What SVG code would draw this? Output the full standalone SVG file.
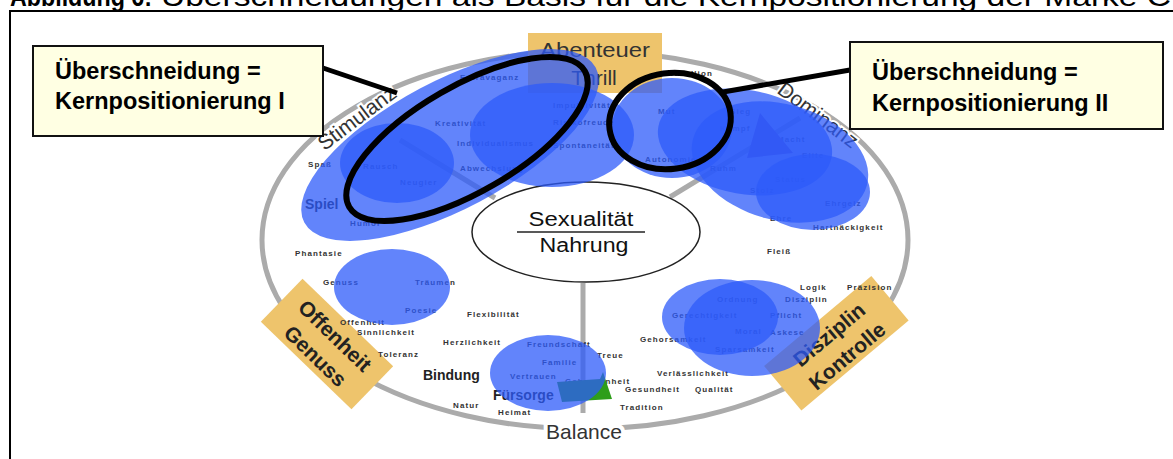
<svg xmlns="http://www.w3.org/2000/svg" width="1173" height="459" viewBox="0 0 1173 459">
<style>
.w{font-family:"Liberation Sans",Arial,sans-serif;font-weight:bold;font-size:8px;letter-spacing:1.1px;fill:#333}
.big{font-family:"Liberation Sans",Arial,sans-serif;font-weight:bold;font-size:14px;fill:#222}
.lbl{font-family:"Liberation Sans",Arial,sans-serif;font-size:21px;fill:#333}
.boxt{font-family:"Liberation Sans",Arial,sans-serif;font-weight:bold;font-size:21px;fill:#222}
.call{font-family:"Liberation Sans",Arial,sans-serif;font-weight:bold;font-size:23.5px;fill:#000}
.ttl{font-family:"Liberation Sans",Arial,sans-serif;font-size:28px;fill:#000}
.blue{fill:#2D5BFA;fill-opacity:0.75}
.gold{fill:#EEC46C}
.spoke{stroke:#ababab;stroke-width:5;fill:none}
</style>
<rect width="1173" height="459" fill="#fff"/>
<g id="title">
<text class="ttl" x="10" y="6" font-weight="bold" font-size="24" textLength="142" lengthAdjust="spacingAndGlyphs">Abbildung 6:</text>
<text class="ttl" x="161" y="6" textLength="1010" lengthAdjust="spacingAndGlyphs">Überschneidungen als Basis für die Kernpositionierung der Marke C</text>
</g>
<path d="M10,460 V11 H1175" fill="none" stroke="#000" stroke-width="2"/>

<g id="wheel">
<ellipse cx="585" cy="240" rx="323" ry="189" fill="none" stroke="#ababab" stroke-width="5"/>
<line class="spoke" x1="400" y1="140" x2="495" y2="198"/>
<line class="spoke" x1="670" y1="197" x2="800" y2="118"/>
<line class="spoke" x1="583" y1="283" x2="583" y2="413"/>
</g>

<g id="center">
<ellipse cx="586" cy="232" rx="114" ry="50" fill="#fff" stroke="#222" stroke-width="1.5"/>
<text x="581" y="226" text-anchor="middle" font-family="'Liberation Sans',Arial,sans-serif" font-size="20" fill="#111" textLength="105" lengthAdjust="spacingAndGlyphs">Sexualität</text>
<line x1="517" y1="232" x2="645" y2="232" stroke="#222" stroke-width="1.5"/>
<text x="584" y="252" text-anchor="middle" font-family="'Liberation Sans',Arial,sans-serif" font-size="20" fill="#111" textLength="89" lengthAdjust="spacingAndGlyphs">Nahrung</text>
</g>

<g id="thrill">
<rect class="gold" x="528" y="33" width="134" height="60"/>
<text class="lbl" x="595" y="57" text-anchor="middle" textLength="110" lengthAdjust="spacingAndGlyphs">Abenteuer</text>
<text class="lbl" x="594" y="85" text-anchor="middle" font-size="23">Thrill</text>
</g>

<g id="stimulanz">
<text class="lbl" transform="translate(357,118) rotate(-37)" x="0" y="7" text-anchor="middle" font-size="23" stroke="#fff" stroke-width="4" paint-order="stroke">Stimulanz</text>
</g>
<g id="dominanz">
<text class="lbl" transform="translate(818,115) rotate(37)" x="0" y="7" text-anchor="middle" font-size="23" stroke="#fff" stroke-width="4" paint-order="stroke">Dominanz</text>
</g>
<g id="balance">
<text class="lbl" x="584" y="439" text-anchor="middle" font-size="23" stroke="#fff" stroke-width="8" paint-order="stroke">Balance</text>
</g>

<g id="offenheit" transform="translate(327,344) rotate(44)">
<rect class="gold" x="-63" y="-30" width="126" height="60"/>
<text class="boxt" x="0" y="-4" text-anchor="middle">Offenheit</text>
<text class="boxt" x="0" y="24" text-anchor="middle">Genuss</text>
</g>

<g id="disziplin" transform="translate(837,344) rotate(-40)">
<rect class="gold" x="-70" y="-30" width="140" height="58"/>
<text class="boxt" x="0" y="-5" text-anchor="middle">Disziplin</text>
<text class="boxt" x="0" y="23" text-anchor="middle">Kontrolle</text>
</g>

<g id="words">
<text class="w" x="460" y="80">Extravaganz</text>
<text class="w" x="435" y="126">Kreativität</text>
<text class="w" x="457" y="146">Individualismus</text>
<text class="w" x="308" y="167">Spaß</text>
<text class="w" x="363" y="169">Rausch</text>
<text class="w" x="460" y="171">Abwechslung</text>
<text class="w" x="400" y="185">Neugier</text>
<text class="big" x="305" y="209">Spiel</text>
<text class="w" x="350" y="226">Humor</text>
<text class="w" x="553" y="108">Impulsivität</text>
<text class="w" x="553" y="125">Risikofreude</text>
<text class="w" x="553" y="148">Spontaneität</text>
<text class="w" x="667" y="76">Rebellion</text>
<text class="w" x="658" y="114">Mut</text>
<text class="w" x="730" y="114">Sieg</text>
<text class="w" x="720" y="131">Kampf</text>
<text class="w" x="777" y="142">Macht</text>
<text class="w" x="802" y="158">Elite</text>
<text class="w" x="645" y="162">Autonomie</text>
<text class="w" x="710" y="171">Ruhm</text>
<text class="w" x="775" y="182">Status</text>
<text class="w" x="750" y="193">Stolz</text>
<text class="w" x="825" y="206">Ehrgeiz</text>
<text class="w" x="770" y="221">Ehre</text>
<text class="w" x="813" y="230">Hartnäckigkeit</text>
<text class="w" x="295" y="256">Phantasie</text>
<text class="w" x="323" y="285">Genuss</text>
<text class="w" x="415" y="285">Träumen</text>
<text class="w" x="405" y="313">Poesie</text>
<text class="w" x="467" y="317">Flexibilität</text>
<text class="w" x="340" y="325">Offenheit</text>
<text class="w" x="357" y="335">Sinnlichkeit</text>
<text class="w" x="443" y="345">Herzlichkeit</text>
<text class="w" x="378" y="357">Toleranz</text>
<text class="big" x="423" y="380">Bindung</text>
<text class="big" x="493" y="400">Fürsorge</text>
<text class="w" x="453" y="408">Natur</text>
<text class="w" x="498" y="415">Heimat</text>
<text class="w" x="527" y="347">Freundschaft</text>
<text class="w" x="542" y="365">Familie</text>
<text class="w" x="510" y="379">Vertrauen</text>
<text class="w" x="565" y="384">Geborgenheit</text>
<text class="w" x="597" y="358">Treue</text>
<text class="w" x="625" y="392">Gesundheit</text>
<text class="w" x="620" y="410">Tradition</text>
<text class="w" x="695" y="392">Qualität</text>
<text class="w" x="657" y="376">Verlässlichkeit</text>
<text class="w" x="640" y="342">Gehorsamkeit</text>
<text class="w" x="767" y="254">Fleiß</text>
<text class="w" x="800" y="290">Logik</text>
<text class="w" x="847" y="290">Präzision</text>
<text class="w" x="717" y="302">Ordnung</text>
<text class="w" x="785" y="302">Disziplin</text>
<text class="w" x="672" y="318">Gerechtigkeit</text>
<text class="w" x="770" y="318">Pflicht</text>
<text class="w" x="735" y="334">Moral</text>
<text class="w" x="770" y="335">Askese</text>
<text class="w" x="715" y="352">Sparsamkeit</text>
</g>

<g id="markers">
<polygon points="760,113 793,153 747,158" fill="#7B3FA8"/>
<polygon points="557,382 600,379 603,372 612,399 562,402" fill="#2E9E1A"/>
</g>

<g id="overlaps">
<ellipse class="blue" cx="450" cy="145" rx="165" ry="64" transform="rotate(-28 450 145)"/>
<ellipse class="blue" cx="397" cy="163" rx="57" ry="40"/>
<ellipse class="blue" cx="552" cy="135" rx="82" ry="52"/>
<ellipse class="blue" cx="672" cy="128" rx="60" ry="50"/>
<ellipse class="blue" cx="745" cy="142" rx="88" ry="52" transform="rotate(10 745 142)"/>
<ellipse class="blue" cx="780" cy="162" rx="90" ry="58" transform="rotate(15 780 162)"/>
<ellipse class="blue" cx="813" cy="192" rx="57" ry="38"/>
<ellipse class="blue" cx="392" cy="287" rx="58" ry="38"/>
<ellipse class="blue" cx="548" cy="373" rx="58" ry="38"/>
<ellipse class="blue" cx="720" cy="317" rx="58" ry="38"/>
<ellipse class="blue" cx="752" cy="328" rx="68" ry="48"/>
</g>

<g id="connectors" stroke="#000" fill="none">
<line x1="323" y1="68" x2="397" y2="93" stroke-width="5"/>
<line x1="723" y1="92" x2="850" y2="70" stroke-width="5"/>
<ellipse cx="467" cy="139" rx="136" ry="53" transform="rotate(-30 467 139)" stroke-width="6"/>
<ellipse cx="670" cy="121" rx="61" ry="48" transform="rotate(-8 670 121)" stroke-width="6"/>
</g>

<g id="callout1">
<rect x="33" y="46" width="290" height="90" fill="#FFFFE3" stroke="#111" stroke-width="2"/>
<text class="call" x="55" y="79">Überschneidung =</text>
<text class="call" x="55" y="109">Kernpositionierung I</text>
</g>
<g id="callout2">
<rect x="850" y="42" width="313" height="87" fill="#FFFFE3" stroke="#111" stroke-width="2"/>
<text class="call" x="872" y="80">Überschneidung =</text>
<text class="call" x="872" y="111">Kernpositionierung II</text>
</g>
</svg>
